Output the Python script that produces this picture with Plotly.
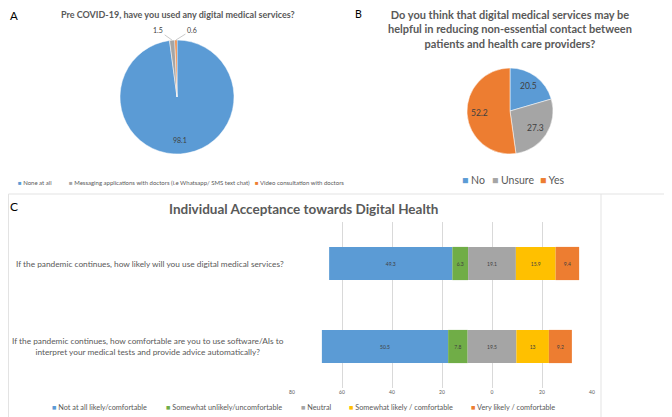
import numpy as np
import plotly.graph_objects as go

W, H = 672, 417
PAGE = 8  # default body margin of the html page the figure sits in
FONT = "Lato, Open Sans, sans-serif"
TXT = "#595959"
VAL = "#404040"

# Panel A - pre COVID use of digital services (%)
pie_a_labels = ["None at all",
                "Messaging applications with doctors (i.e Whatsapp/ SMS text chat)",
                "Video consultation with doctors"]
pie_a_values = [98.1, 1.5, 0.6]

# Panel B - reduce non-essential contact (%)
pie_b_labels = ["No", "Unsure", "Yes"]
pie_b_values = [20.5, 27.3, 52.2]

# Panel C - acceptance (%), diverging around neutral
levels = ["Not at all likely/comfortable", "Somewhat unlikely/uncomfortable", "Neutral",
          "Somewhat likely / comfortable", "Very likely / comfortable"]
questions = ["If the pandemic continues, how likely will you use digital medical services?",
             "If the pandemic continues, how comfortable are you to use software/AIs to<br>"
             "interpret your medical tests and provide advice automatically?"]
likely_use = [49.3, 6.3, 19.1, 15.9, 9.4]
comfortable_ai = [50.5, 7.8, 19.5, 13, 9.2]
x_ticks = [-80, -60, -40, -20, 0, 20, 40]

BLUE, GREY, ORANGE, GREEN, YELLOW = "#5b9bd5", "#a5a5a5", "#ed7d31", "#70ad47", "#ffc000"
pie_colors = [BLUE, GREY, ORANGE]
level_colors = [BLUE, GREEN, GREY, YELLOW, ORANGE]

# pie geometry (screen pixels)
A_CX, A_CY, A_R = 177, 97, 57
B_CX, B_CY, B_R = 510, 111, 43


def px(x):
    return (x - PAGE) / W


def py(y):
    return 1 - (y - PAGE) / H


def mid_angles(values):
    cum = np.cumsum(values)
    return (cum - np.array(values) / 2) / cum[-1] * 2 * np.pi


def slice_point(cx, cy, r, ang):
    return cx + r * np.sin(ang), cy - r * np.cos(ang)


def label(x, y, text, size, color=VAL):
    fig.add_annotation(x=px(x), y=py(y), xref="paper", yref="paper", showarrow=False,
                       xanchor="center", yanchor="middle", text=text,
                       font=dict(size=size, color=color))


fig = go.Figure()

# A
fig.add_trace(go.Pie(
    labels=pie_a_labels, values=pie_a_values, sort=False, direction="clockwise", rotation=0,
    marker=dict(colors=pie_colors, line=dict(color="white", width=0.5)),
    textinfo="none", domain=dict(x=[px(A_CX - A_R), px(A_CX + A_R)],
                                 y=[py(A_CY + A_R), py(A_CY - A_R)]),
    showlegend=False, hoverinfo="label+value"))

ang_a = mid_angles(pie_a_values)
label(*slice_point(A_CX, A_CY, A_R * 0.75, ang_a[0]), f"{pie_a_values[0]:g}", 7)
# outside labels for the two thin slices, with leader lines to the slice edge
for i, (dx, dy) in zip([1, 2], [(-14, -10), (16, -10)]):
    ex, ey = slice_point(A_CX, A_CY, A_R, ang_a[i])
    fig.add_annotation(x=px(ex), y=py(ey), xref="paper", yref="paper",
                       text=f"{pie_a_values[i]:g}", showarrow=True, arrowhead=0,
                       arrowwidth=0.6, arrowcolor="#a6a6a6", ax=dx, ay=dy,
                       font=dict(size=7, color=VAL))

# B
fig.add_trace(go.Pie(
    labels=pie_b_labels, values=pie_b_values, sort=False, direction="clockwise", rotation=0,
    marker=dict(colors=pie_colors, line=dict(color="white", width=0.5)),
    textinfo="none", domain=dict(x=[px(B_CX - B_R), px(B_CX + B_R)],
                                 y=[py(B_CY + B_R), py(B_CY - B_R)]),
    showlegend=False, hoverinfo="label+value"))

for v, ang in zip(pie_b_values, mid_angles(pie_b_values)):
    label(*slice_point(B_CX, B_CY, B_R * 0.72, ang), f"{v:g}", 8.5)

# C - diverging stacked bars
rows = np.array([likely_use, comfortable_ai])
starts = -(rows[:, 0] + rows[:, 1] + rows[:, 2] / 2)
bases = starts[:, None] + np.hstack([np.zeros((2, 1)), np.cumsum(rows, axis=1)[:, :-1]])
for i, name in enumerate(levels):
    fig.add_trace(go.Bar(
        y=questions, x=rows[:, i], base=bases[:, i], orientation="h", name=name,
        marker=dict(color=level_colors[i], line=dict(width=0)),
        text=[f"{v:g}" for v in rows[:, i]], textposition="inside",
        insidetextanchor="middle", textfont=dict(size=5, color=VAL),
        showlegend=False))

for q in questions:
    fig.add_annotation(x=px(286), y=q, xref="paper", yref="y", text=q, showarrow=False,
                       xanchor="right", yanchor="middle", align="center",
                       font=dict(size=8.3, color=TXT))


# legends drawn as small square markers + text, like the source charts
def legend_row(labels, colors, xs, y, size):
    for lab, col, x in zip(labels, colors, xs):
        fig.add_annotation(x=px(x), y=py(y), xref="paper", yref="paper", showarrow=False,
                           xanchor="left", yanchor="middle",
                           text=f"<span style='color:{col}'>■</span> {lab}",
                           font=dict(size=size, color=TXT))


legend_row(pie_a_labels, pie_colors, [16, 67, 253], 182, 6)
legend_row(pie_b_labels, pie_colors, [460, 490, 538], 180, 10.5)
legend_row(levels, level_colors, [50, 164, 299, 347, 469], 407, 7.3)

# titles and panel letters
label(14, 15, "A", 11.5, "black")
label(178, 14, "<b>Pre COVID-19, have you used any digital medical services?</b>", 9, TXT)
label(358, 14, "B", 10.5, "black")
label(510, 29, "<b>Do you think that digital medical services may be<br>helpful in reducing "
               "non-essential contact between<br>patients and health care providers?</b>",
      11, TXT)
label(14, 207, "C", 12, "black")
label(303, 209, "<b>Individual Acceptance towards Digital Health</b>", 13.5, TXT)

# panel C frame
for fx0, fy0, fx1, fy1 in [(8.5, 194, 670, 194), (8.5, 194, 8.5, 425), (601, 194, 601, 425)]:
    fig.add_shape(type="line", x0=px(fx0), x1=px(fx1), y0=py(fy0), y1=py(fy1), xref="paper",
                  yref="paper", line=dict(color="#e3e3e3", width=1))

fig.update_layout(
    width=W, height=H, margin=dict(l=0, r=0, t=0, b=0, autoexpand=False),
    paper_bgcolor="white", plot_bgcolor="white",
    font=dict(family=FONT, color=TXT),
    barmode="overlay", bargap=0.6, showlegend=False,
    xaxis=dict(domain=[px(292), px(592)], range=[-80, 40], tickvals=x_ticks,
               ticktext=[str(abs(v)) for v in x_ticks], showgrid=True, gridcolor="#d9d9d9",
               gridwidth=1, zeroline=False, showline=False, ticks="",
               tickfont=dict(size=5, color=TXT), fixedrange=True),
    yaxis=dict(domain=[py(388), py(222)], autorange="reversed", showticklabels=False,
               showgrid=False, zeroline=False, fixedrange=True),
)

fig.write_html("out.html")
